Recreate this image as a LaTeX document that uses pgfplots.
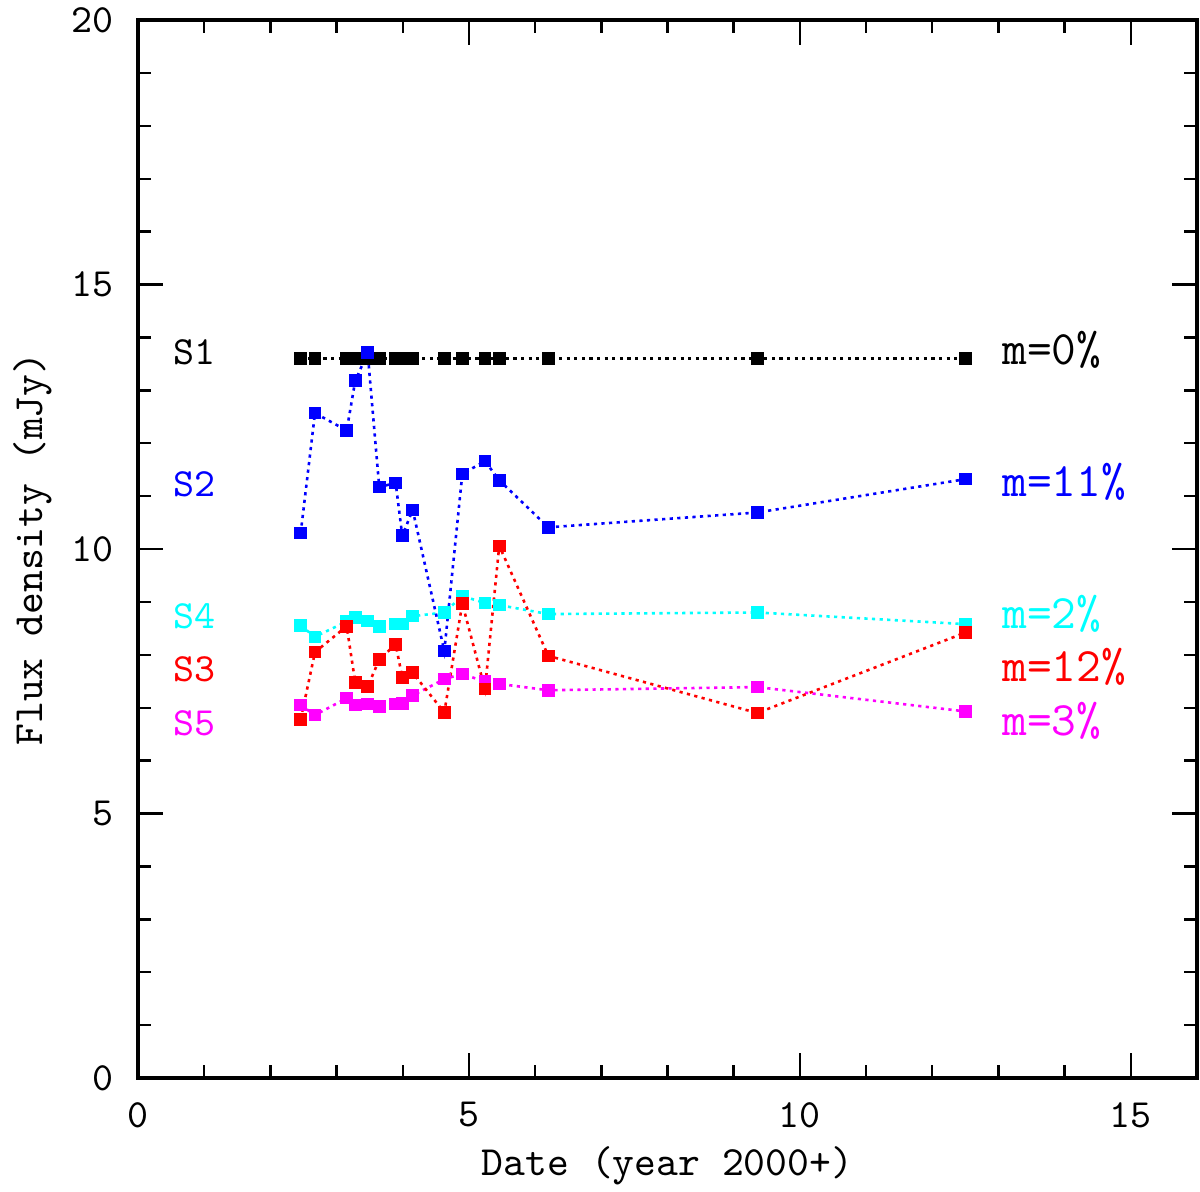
\documentclass[border=0pt]{standalone}
\usepackage{pgfplots}
\pgfplotsset{compat=1.18}
\usepackage{pgfplotstable}
\pgfplotstableread{
x     s1    s2     s3    s4    s5
2.458 13.60 10.30  6.78  8.55  7.05
2.674 13.60 12.57  8.05  8.34  6.86
3.153 13.60 12.24  8.54  8.63  7.18
3.282 13.60 13.18  7.48  8.70  7.05
3.470 13.60 13.71  7.40  8.64  7.07
3.645 13.60 11.17  7.91  8.53  7.02
3.893 13.60 11.25  8.20  8.58  7.07
3.993 13.60 10.25  7.57  8.58  7.08
4.150 13.60 10.74  7.66  8.73  7.23
4.628 13.60  8.07  6.91  8.80  7.54
4.900 13.60 11.42  8.97  9.11  7.64
5.242 13.60 11.66  7.35  8.98  7.49
5.458 13.60 11.30 10.06  8.94  7.45
6.199 13.60 10.41  7.98  8.77  7.33
9.357 13.60 10.69  6.90  8.80  7.39
12.500 13.60 11.32  8.42  8.58  6.93
}\datatable
\definecolor{cS1}{rgb}{0,0,0}
\definecolor{cS2}{rgb}{0,0,1}
\definecolor{cS3}{rgb}{1,0,0}
\definecolor{cS4}{rgb}{0,1,1}
\definecolor{cS5}{rgb}{1,0,1}
\begin{document}
\begin{tikzpicture}
\begin{axis}[
  scale only axis, width=264.75pt, height=264.5pt,
  xmin=0, xmax=16, ymin=0, ymax=20,
  xtick={0,5,10,15}, ytick={0,5,10,15,20},
  minor x tick num=4, minor y tick num=4,
  major tick length=6.25pt, minor tick length=3.25pt,
  tick style={line width=0.6pt, black},
  axis line style={line width=0.8pt},
  tick align=inside,
  /pgf/number format/assume math mode=true,
  ticklabel style={font=\ttfamily\fontsize{10}{11}\selectfont},
  xticklabel style={yshift=-2.5pt},
  yticklabel style={xshift=-2.5pt},
  xlabel={Date (year 2000+)}, ylabel={Flux density (mJy)},
  label style={font=\ttfamily\fontsize{10.4}{12}\selectfont},
  xlabel style={at={(axis description cs:0.5,-0.0917)}, anchor=base},
  ylabel style={at={(axis description cs:-0.0906,0.5)}, anchor=base},
  clip=false,
  every axis plot/.append style={line width=0.65pt, dash pattern={on 0.8pt off 1.1pt}, mark=square*, mark size=1.25pt, mark options={solid}},
]
\addplot[cS1] table[x=x, y=s1] {\datatable};
\addplot[cS4] table[x=x, y=s4] {\datatable};
\addplot[cS5] table[x=x, y=s5] {\datatable};
\addplot[cS3] table[x=x, y=s3] {\datatable};
\addplot[cS2] table[x=x, y=s2] {\datatable};
\begin{scope}[every node/.style={anchor=base west, inner sep=0pt, font=\ttfamily\fontsize{10}{12}\selectfont}]
\node[text=cS1] at (axis cs:0.53,13.48) {S1};
\node[text=cS2] at (axis cs:0.53,10.99) {S2};
\node[text=cS4] at (axis cs:0.53,8.50) {S4};
\node[text=cS3] at (axis cs:0.53,7.49) {S3};
\node[text=cS5] at (axis cs:0.53,6.48) {S5};
\end{scope}
\begin{scope}[every node/.style={anchor=base west, inner sep=0pt, font=\ttfamily\fontsize{12}{14}\selectfont}]
\node[text=cS1] at (axis cs:13.05,13.48) {m=0\%};
\node[text=cS2] at (axis cs:13.05,10.99) {m=11\%};
\node[text=cS4] at (axis cs:13.05,8.50) {m=2\%};
\node[text=cS3] at (axis cs:13.05,7.49) {m=12\%};
\node[text=cS5] at (axis cs:13.05,6.48) {m=3\%};
\end{scope}
\end{axis}
\pgfresetboundingbox
\path ([shift={(-34.5pt,-28.25pt)}]current axis.south west) rectangle ([shift={(0.75pt,5pt)}]current axis.north east);
\end{tikzpicture}
\end{document}
